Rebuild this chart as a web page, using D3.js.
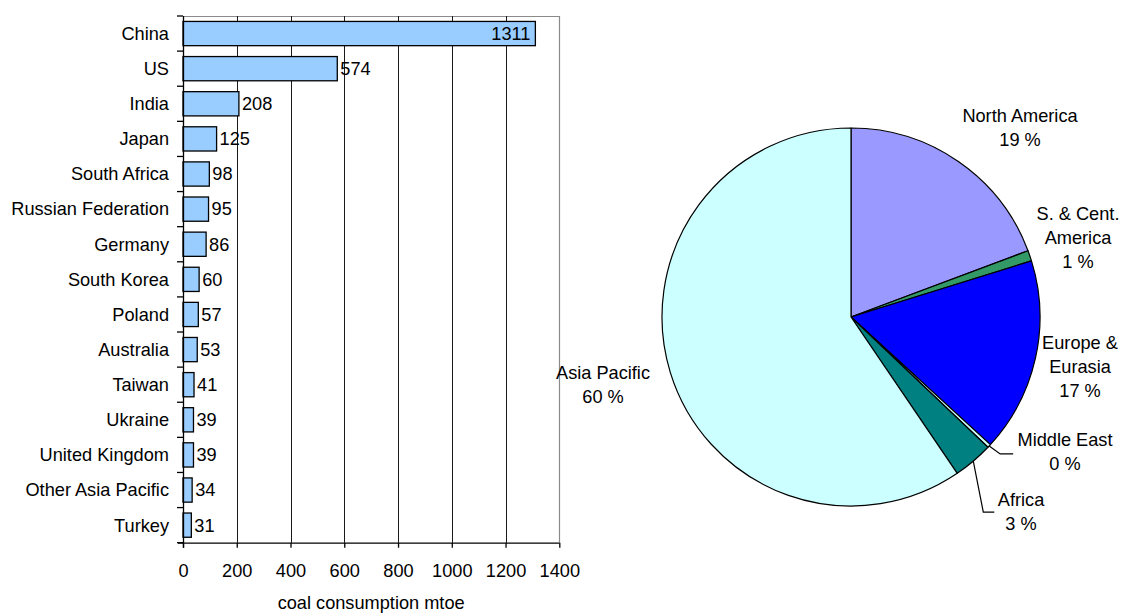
<!DOCTYPE html>
<html>
<head>
<meta charset="utf-8">
<script src="https://cdn.jsdelivr.net/npm/d3@7"></script>
<style>
  html, body { margin: 0; padding: 0; background: #fff; }
  svg text { font-family: "Liberation Sans", Arial, sans-serif; fill: #000; }
</style>
</head>
<body>
<svg id="chart" width="1122" height="613"></svg>
<script>
// Coal consumption by country (million tonnes oil equivalent)
const countries = ["China", "US", "India", "Japan", "South Africa", "Russian Federation",
  "Germany", "South Korea", "Poland", "Australia", "Taiwan", "Ukraine",
  "United Kingdom", "Other Asia Pacific", "Turkey"];
const consumption = [1311, 574, 208, 125, 98, 95, 86, 60, 57, 53, 41, 39, 39, 34, 31];
const xTicks = [0, 200, 400, 600, 800, 1000, 1200, 1400];
const xTitle = "coal consumption mtoe";

// Regional share of world coal consumption (%)
const regions = ["North America", "S. & Cent. America", "Europe & Eurasia", "Middle East", "Africa", "Asia Pacific"];
const regionLabelLines = [["North America"], ["S. & Cent.", "America"], ["Europe &", "Eurasia"], ["Middle East"], ["Africa"], ["Asia Pacific"]];
const shares = [19.3, 0.9, 16.6, 0.3, 3.4, 59.5];
const regionColors = ["#9999FF", "#339966", "#0000FF", "#CCFFFF", "#008080", "#CCFFFF"];

const svg = d3.select("#chart");
const FONT = 18.2;

// ---------- Bar chart ----------
const m = { left: 183, right: 559.3, top: 16, bottom: 542.7 };
const x = d3.scaleLinear().domain([0, 1400]).range([m.left, m.right]);
const y = d3.scaleBand().domain(countries).range([m.top, m.bottom]).paddingInner(0.31).paddingOuter(0.155);
const bandAll = d3.scaleBand().domain(countries).range([m.top, m.bottom]);

const bar = svg.append("g");

// plot frame (top & right)
bar.append("path")
  .attr("d", `M${m.left},${m.top + 0.5}H${Math.round(m.right) + 0.5}V${m.bottom}`)
  .attr("fill", "none").attr("stroke", "#8a8a8a").attr("stroke-width", 1.2);

// vertical gridlines
bar.append("g").selectAll("line")
  .data(xTicks.filter(d => d > 0 && d < 1400))
  .join("line")
  .attr("x1", d => Math.round(x(d)) + 0.5).attr("x2", d => Math.round(x(d)) + 0.5)
  .attr("y1", m.top).attr("y2", m.bottom)
  .attr("stroke", "#1a1a1a").attr("stroke-width", 1);

// bars
bar.append("g").selectAll("rect")
  .data(consumption)
  .join("rect")
  .attr("x", x(0))
  .attr("y", (d, i) => y(countries[i]))
  .attr("width", d => x(d) - x(0))
  .attr("height", y.bandwidth())
  .attr("fill", "#99CCFF")
  .attr("stroke", "#000").attr("stroke-width", 1.3);

// value labels
bar.append("g").selectAll("text")
  .data(consumption)
  .join("text")
  .attr("x", (d, i) => i === 0 ? x(d) - 5 : x(d) + 3)
  .attr("y", (d, i) => y(countries[i]) + y.bandwidth() / 2)
  .attr("dy", "0.35em")
  .attr("text-anchor", (d, i) => i === 0 ? "end" : "start")
  .attr("font-size", FONT)
  .text(d => d);

// y axis: category labels with ticks at band boundaries
const yAxisG = bar.append("g");
yAxisG.append("line")
  .attr("x1", m.left + 0.5).attr("x2", m.left + 0.5)
  .attr("y1", m.top).attr("y2", m.bottom + 5)
  .attr("stroke", "#000").attr("stroke-width", 1.3);
yAxisG.selectAll("line.tick")
  .data(countries.map(c => bandAll(c)).concat([m.bottom]))
  .join("line").attr("class", "tick")
  .attr("x1", m.left - 6).attr("x2", m.left)
  .attr("y1", d => d).attr("y2", d => d)
  .attr("stroke", "#000").attr("stroke-width", 1.3);
yAxisG.selectAll("text")
  .data(countries)
  .join("text")
  .attr("x", m.left - 14)
  .attr("y", d => bandAll(d) + bandAll.bandwidth() / 2)
  .attr("dy", "0.35em")
  .attr("text-anchor", "end")
  .attr("font-size", FONT)
  .text(d => d);

// x axis
const xAxis = d3.axisBottom(x).tickValues(xTicks).tickFormat(d3.format("d"))
  .tickSize(5).tickSizeOuter(0).tickPadding(16);
const xg = bar.append("g").attr("transform", `translate(0,${m.bottom})`).call(xAxis);
xg.select(".domain").attr("stroke", "#000").attr("stroke-width", 1.3)
  .attr("d", `M${m.left - 5},0.5H${m.right}`);
xg.selectAll(".tick line").attr("stroke", "#000").attr("stroke-width", 1.3);
xg.selectAll(".tick text").attr("font-size", FONT).attr("font-family", null).attr("fill", "#000");

bar.append("text")
  .attr("x", (m.left + m.right) / 2)
  .attr("y", 609)
  .attr("text-anchor", "middle")
  .attr("font-size", FONT)
  .text(xTitle);

// ---------- Pie chart ----------
const cx = 851, cy = 317, r = 189;
const pie = d3.pie().sort(null).value(d => d);
const arcs = pie(shares);
const arc = d3.arc().innerRadius(0).outerRadius(r);

const pg = svg.append("g").attr("transform", `translate(${cx},${cy})`);
pg.selectAll("path")
  .data(arcs)
  .join("path")
  .attr("d", arc)
  .attr("fill", (d, i) => regionColors[i])
  .attr("stroke", "#000").attr("stroke-width", 1.2)
  .attr("stroke-linejoin", "round");

// label anchors relative to the pie centre (first line centre)
const labelOffsets = [[169, -201], [227, -103], [229, 26], [214, 123], [170, 183], [-248, 56]];
const lineH = 24;
arcs.forEach((a, i) => {
  const [ox, oy] = labelOffsets[i];
  const lines = regionLabelLines[i].concat([`${Math.round(shares[i])} %`]);
  const t = pg.append("text").attr("text-anchor", "middle").attr("font-size", FONT);
  lines.forEach((s, k) => {
    t.append("tspan").attr("x", ox).attr("y", oy + k * lineH).attr("dy", "0.35em").text(s);
  });
});

// leader lines for the two thin slices
function edgePoint(a) {
  const ang = (a.startAngle + a.endAngle) / 2;
  return [r * Math.sin(ang), -r * Math.cos(ang)];
}
const me = edgePoint(arcs[3]);
pg.append("path")
  .attr("d", `M${me[0]},${me[1]}L${me[0] + 11},${me[1] + 8}H${me[0] + 24}`)
  .attr("fill", "none").attr("stroke", "#000").attr("stroke-width", 1.2);
const af = edgePoint(arcs[4]);
pg.append("path")
  .attr("d", `M${af[0]},${af[1]}L${af[0] + 10},${af[1] + 51}H${af[0] + 21}`)
  .attr("fill", "none").attr("stroke", "#000").attr("stroke-width", 1.2);
</script>
</body>
</html>
